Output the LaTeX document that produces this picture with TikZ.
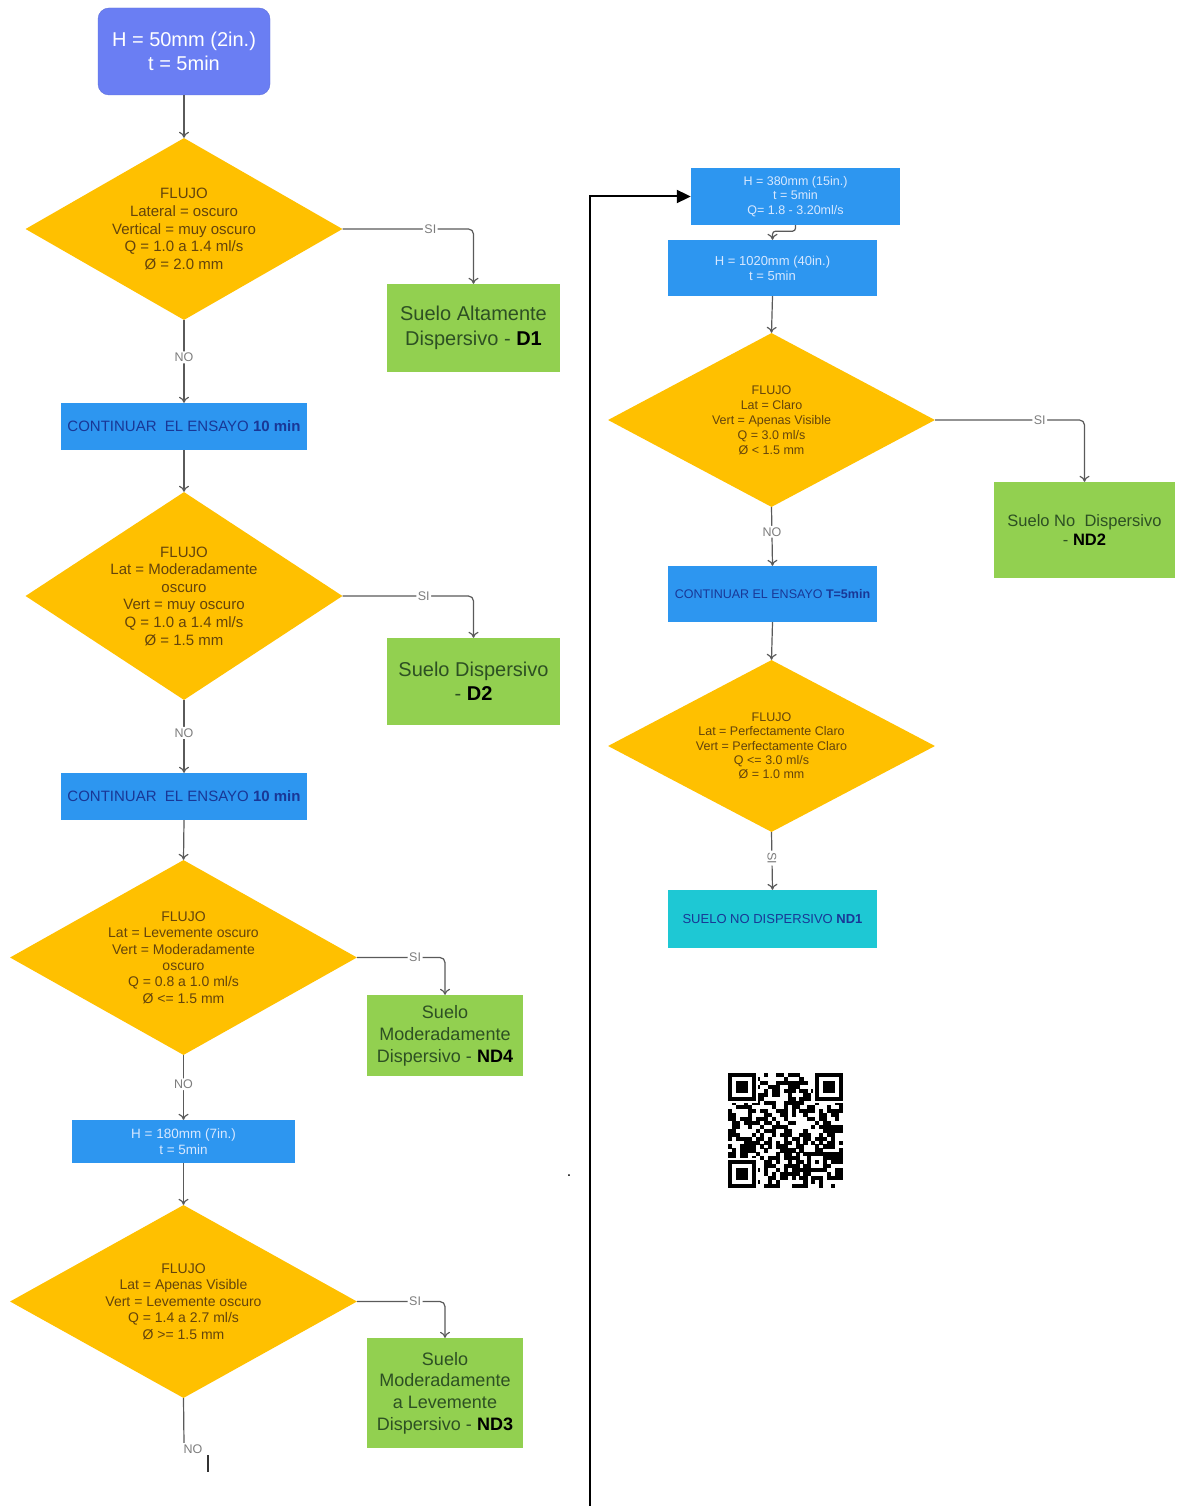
\documentclass[tikz,border=0pt]{standalone}
\usepackage{fontspec}
\setmainfont{Liberation Sans}
\usetikzlibrary{shapes.geometric,arrows.meta}

\definecolor{startblue}{RGB}{106,126,243}
\definecolor{gold}{RGB}{255,192,0}
\definecolor{leaf}{RGB}{146,208,80}
\definecolor{stepblue}{RGB}{45,150,240}
\definecolor{ndcyan}{RGB}{30,200,212}
\definecolor{dtext}{RGB}{100,68,12}
\definecolor{gtext}{RGB}{45,80,35}
\definecolor{btext}{RGB}{25,55,150}
\definecolor{ltext}{RGB}{215,232,255}
\definecolor{edgegray}{RGB}{90,90,90}
\definecolor{labelgray}{RGB}{125,125,125}

\tikzset{
  startbox/.style={rectangle, fill=startblue, draw=startblue!90!black, rounded corners=11pt,
    text=white, align=center, inner sep=0pt},
  decision/.style={diamond, fill=gold, align=center, text=dtext, inner sep=0pt, shape aspect=1.8},
  result/.style={rectangle, fill=leaf, align=center, text=gtext, inner sep=0pt},
  stepbox/.style={rectangle, fill=stepblue, align=center, inner sep=0pt},
  finalbox/.style={rectangle, fill=ndcyan, align=center, text=btext, inner sep=0pt},
  conn/.style={draw=edgegray, line width=1.2pt, rounded corners=5pt, -{To[length=6pt,width=10pt]}},
  plainconn/.style={draw=edgegray, line width=1.2pt},
  lbl/.style={fill=white, text=labelgray, inner sep=1.5pt, font=\fontsize{12.5}{12.5}\selectfont},
  loopline/.style={draw=black, line width=2pt, -{Triangle[length=14pt,width=13pt]}},
  qrmod/.style={fill=black},
}

\begin{document}
\begin{tikzpicture}[x=1pt,y=-1pt]
\useasboundingbox[fill=white] (0,0) rectangle (1181,1506);

% ---------- left column ----------
\node[startbox, minimum width=172pt, minimum height=87pt, font=\fontsize{20}{24}\selectfont]
  (start) at (184,51.5) {H = 50mm (2in.)\\t = 5min};

\node[decision, minimum width=317pt, minimum height=182pt, font=\fontsize{15}{17.7}\selectfont]
  (d1) at (184,229) {FLUJO\\Lateral = oscuro\\Vertical = muy oscuro\\Q = 1.0 a 1.4 ml/s\\Ø = 2.0 mm};
\node[result, minimum width=173pt, minimum height=88pt, font=\fontsize{20}{25}\selectfont]
  (g1) at (473.5,328) {Suelo Altamente\\Dispersivo - \textcolor{black}{\textbf{D1}}};
\node[stepbox, minimum width=246pt, minimum height=47pt, text=btext, font=\fontsize{15}{18}\selectfont]
  (c1) at (184,426.5) {CONTINUAR\ \ EL ENSAYO \textbf{10 min}};

\node[decision, shape aspect=1.52, minimum width=317pt, minimum height=208pt, font=\fontsize{15}{17.6}\selectfont]
  (d2) at (184,596) {FLUJO\\Lat = Moderadamente\\oscuro\\Vert = muy oscuro\\Q = 1.0 a 1.4 ml/s\\Ø = 1.5 mm};
\node[result, minimum width=173pt, minimum height=87pt, font=\fontsize{20}{24}\selectfont]
  (g2) at (473.5,681.5) {Suelo Dispersivo\\- \textcolor{black}{\textbf{D2}}};
\node[stepbox, minimum width=246pt, minimum height=47pt, text=btext, font=\fontsize{15}{18}\selectfont]
  (c2) at (184,796.5) {CONTINUAR\ \ EL ENSAYO \textbf{10 min}};

\node[decision, minimum width=347pt, minimum height=195pt, font=\fontsize{14}{16.4}\selectfont]
  (d3) at (183.5,957.5) {FLUJO\\Lat = Levemente oscuro\\Vert = Moderadamente\\oscuro\\Q = 0.8 a 1.0 ml/s\\Ø <= 1.5 mm};
\node[result, minimum width=156pt, minimum height=81pt, font=\fontsize{18}{22}\selectfont]
  (g3) at (445,1035.5) {Suelo\\Moderadamente\\Dispersivo - \textcolor{black}{\textbf{ND4}}};
\node[stepbox, minimum width=223pt, minimum height=43pt, text=ltext, font=\fontsize{13.5}{16}\selectfont]
  (h180) at (183.5,1141.5) {H = 180mm (7in.)\\t = 5min};

\node[decision, minimum width=347pt, minimum height=193pt, font=\fontsize{14}{16.5}\selectfont]
  (d4) at (183.5,1301.5) {FLUJO\\Lat = Apenas Visible\\Vert = Levemente oscuro\\Q = 1.4 a 2.7 ml/s\\Ø >= 1.5 mm};
\node[result, minimum width=156pt, minimum height=110pt, font=\fontsize{18}{21.7}\selectfont]
  (g4) at (445,1393) {Suelo\\Moderadamente\\a Levemente\\Dispersivo - \textcolor{black}{\textbf{ND3}}};

% ---------- right column ----------
\node[stepbox, minimum width=209pt, minimum height=57pt, text=ltext, font=\fontsize{12.5}{14.5}\selectfont]
  (r0) at (795.5,196.5) {H = 380mm (15in.)\\t = 5min\\Q= 1.8 - 3.20ml/s};
\node[stepbox, minimum width=209pt, minimum height=56pt, text=ltext, font=\fontsize{13}{15}\selectfont]
  (r1) at (772.5,268) {H = 1020mm (40in.)\\t = 5min};

\node[decision, minimum width=327pt, minimum height=174pt, font=\fontsize{12.5}{15}\selectfont]
  (rd1) at (771.5,420) {FLUJO\\Lat = Claro\\Vert = Apenas Visible\\Q = 3.0 ml/s\\Ø < 1.5 mm};
\node[result, minimum width=181pt, minimum height=96pt, font=\fontsize{16.5}{19.5}\selectfont]
  (rg) at (1084.5,530) {Suelo No\ \ Dispersivo\\- \textcolor{black}{\textbf{ND2}}};
\node[stepbox, minimum width=209pt, minimum height=56pt, text=btext, font=\fontsize{12.5}{15}\selectfont]
  (r3) at (772.5,594) {CONTINUAR EL ENSAYO \textbf{T=5min}};

\node[decision, minimum width=327pt, minimum height=172pt, font=\fontsize{12.5}{14.3}\selectfont]
  (rd2) at (771.5,746) {FLUJO\\Lat = Perfectamente Claro\\Vert = Perfectamente Claro\\Q <= 3.0 ml/s\\Ø = 1.0 mm};
\node[finalbox, minimum width=209pt, minimum height=58pt, font=\fontsize{13}{15}\selectfont]
  (nd1) at (772.5,919) {SUELO NO DISPERSIVO \textbf{ND1}};

% ---------- connectors, left column ----------
\draw[conn] (start.south) -- (d1.north);
\draw[conn] (d1.east) -| node[lbl,pos=0.335]{SI} (g1.north);
\draw[conn] (d1.south) -- node[lbl,pos=0.45]{NO} (c1.north);
\draw[conn] (c1.south) -- (d2.north);
\draw[conn] (d2.east) -| node[lbl,pos=0.31]{SI} (g2.north);
\draw[conn] (d2.south) -- node[lbl,pos=0.45]{NO} (c2.north);
\draw[conn] (c2.south) -- (d3.north);
\draw[conn] (d3.east) -| node[lbl,pos=0.33]{SI} (g3.north);
\draw[conn] (d3.south) -- node[lbl,pos=0.45]{NO} (h180.north);
\draw[conn] (h180.south) -- (d4.north);
\draw[conn] (d4.east) -| node[lbl,pos=0.33]{SI} (g4.north);

% open end below the last decision
\coordinate (noend) at (184,1444);
\draw[plainconn] (d4.south) -- (noend);
\node[lbl] (nolast) at (193,1449) {NO};
\coordinate (tickA) at (208,1455);
\coordinate (tickB) at (208,1472);
\draw[draw=black!80, line width=1.4pt] (tickA) -- (tickB);

% ---------- connectors, right column ----------
\coordinate (loopstart) at (590,1506);
\draw[loopline] (loopstart) |- (r0.west);
\draw[conn, rounded corners=3pt] (r0.south) -- ++(0,6) -| (r1.north);
\draw[conn] (r1.south) -- (rd1.north);
\draw[conn] (rd1.east) -| node[lbl,pos=0.35]{SI} (rg.north);
\draw[conn] (rd1.south) -- node[lbl,pos=0.42]{NO} (r3.north);
\draw[conn] (r3.south) -- (rd2.north);
\draw[conn] (rd2.south) -- node[lbl,pos=0.45,rotate=-90]{SI} (nd1.north);

% stray full stop
\node[font=\fontsize{16}{16}\selectfont] (dot) at (569,1176) {.};

% ---------- QR code (29 x 29 modules) ----------
\def\qs{3.97}
\begin{scope}[shift={(728,1073)}]
  \pgfmathsetseed{4711}
  \foreach \i in {0,...,28}{
    \foreach \j in {0,...,28}{
      \pgfmathrandominteger{\q}{0}{1}
      \ifnum\q=1 \fill[qrmod] (\i*\qs,\j*\qs) rectangle ++(\qs+0.1,\qs+0.1); \fi
    }
  }
  % finder patterns
  \foreach \cx/\cy in {0/0,22/0,0/22}{
    \fill[white] ({(\cx-0.5)*\qs},{(\cy-0.5)*\qs}) rectangle ++(8*\qs,8*\qs);
    \fill[qrmod] (\cx*\qs,\cy*\qs) rectangle ++(7*\qs,7*\qs);
    \fill[white] ({(\cx+1)*\qs},{(\cy+1)*\qs}) rectangle ++(5*\qs,5*\qs);
    \fill[qrmod] ({(\cx+2)*\qs},{(\cy+2)*\qs}) rectangle ++(3*\qs,3*\qs);
  }
  % alignment pattern
  \fill[qrmod] (20*\qs,20*\qs) rectangle ++(5*\qs,5*\qs);
  \fill[white] (21*\qs,21*\qs) rectangle ++(3*\qs,3*\qs);
  \fill[qrmod] (22*\qs,22*\qs) rectangle ++(\qs,\qs);
\end{scope}

\end{tikzpicture}
\end{document}
